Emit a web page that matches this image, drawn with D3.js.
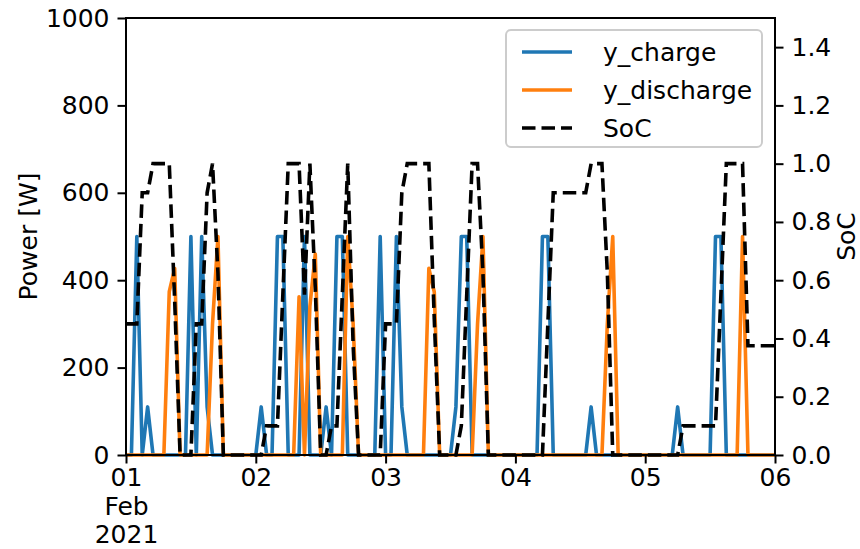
<!DOCTYPE html>
<html>
<head>
<meta charset="utf-8">
<script src="https://cdn.jsdelivr.net/npm/d3@7"></script>
<style>
  body { margin: 0; background: #fff; }
  text { font-family: "DejaVu Sans", sans-serif; }
</style>
</head>
<body>
<div id="chart"></div>
<script>
// hourly values, 2021-02-01 00:00 .. 2021-02-06 00:00 (121 points)
const yCharge = [
  0, 0, 500, 0, 110, 0, 0, 0, 0, 0, 0, 0, 500, 0, 500, 110, 0, 0, 0, 0, 0, 0, 0, 0,
  0, 110, 0, 0, 500, 500, 0, 0, 0, 500, 0, 0, 0, 110, 0, 500, 500, 0, 0, 0, 0, 0, 0, 500,
  0, 0, 500, 110, 0, 0, 0, 0, 0, 0, 0, 0, 0, 110, 500, 500, 0, 0, 0, 0, 0, 0, 0, 0,
  0, 0, 0, 0, 0, 500, 500, 0, 0, 0, 0, 0, 0, 0, 110, 0, 0, 0, 0, 0, 0, 0, 0, 0,
  0, 0, 0, 0, 0, 0, 110, 0, 0, 0, 0, 0, 0, 500, 500, 0, 0, 0, 0, 0, 0, 0, 0, 0,
  0
];
const yDischarge = [
  0, 0, 0, 0, 0, 0, 0, 0, 374, 427, 0, 0, 0, 0, 0, 0, 300, 500, 0, 0, 0, 0, 0, 0,
  0, 0, 0, 0, 0, 0, 0, 0, 362, 0, 340, 460, 0, 0, 0, 0, 0, 500, 300, 0, 0, 0, 0, 0,
  0, 0, 0, 0, 0, 0, 0, 0, 427, 373, 0, 0, 0, 0, 0, 0, 0, 300, 500, 0, 0, 0, 0, 0,
  0, 0, 0, 0, 0, 0, 0, 0, 0, 0, 0, 0, 0, 0, 0, 0, 0, 300, 500, 0, 0, 0, 0, 0,
  0, 0, 0, 0, 0, 0, 0, 0, 0, 0, 0, 0, 0, 0, 0, 0, 0, 0, 500, 0, 0, 0, 0, 0,
  0
];
const soc = [
  0.45, 0.45, 0.45, 0.9, 0.9, 1, 1, 1, 1, 0.53, 0, 0, 0, 0.45, 0.45, 0.9, 1, 0.625, 0, 0, 0, 0, 0, 0,
  0, 0, 0.1, 0.1, 0.1, 0.55, 1, 1, 1, 0.55, 1, 0.575, 0, 0, 0.1, 0.1, 0.55, 1, 0.375, 0, 0, 0, 0, 0,
  0.45, 0.45, 0.45, 0.9, 1, 1, 1, 1, 1, 0.466, 0, 0, 0, 0, 0.1, 0.55, 1, 1, 0.625, 0, 0, 0, 0, 0,
  0, 0, 0, 0, 0, 0, 0.45, 0.9, 0.9, 0.9, 0.9, 0.9, 0.9, 0.9, 1, 1, 1, 0.625, 0, 0, 0, 0, 0, 0,
  0, 0, 0, 0, 0, 0, 0, 0.1, 0.1, 0.1, 0.1, 0.1, 0.1, 0.1, 0.55, 1, 1, 1, 1, 0.375, 0.375, 0.375, 0.375, 0.375,
  0.375
];
const powerTicks = [0, 200, 400, 600, 800, 1000];
const socTicks = [0, 0.2, 0.4, 0.6, 0.8, 1.0, 1.2, 1.4];
const seriesNames = ["y_charge", "y_discharge", "SoC"];

const width = 860;
const height = 549;
const margin = { top: 18, right: 85, bottom: 94, left: 126 };
const fontSize = 25;

const start = new Date(Date.UTC(2021, 1, 1));
const times = yCharge.map((_, i) => d3.utcHour.offset(start, i));

const svg = d3.select("#chart").append("svg")
  .attr("width", width)
  .attr("height", height);

const x = d3.scaleUtc()
  .domain([start, d3.utcDay.offset(start, 5)])
  .range([margin.left, width - margin.right]);
const y = d3.scaleLinear().domain([0, 1000]).range([height - margin.bottom, margin.top]);
const y2 = d3.scaleLinear().domain([0, 1.5]).range([height - margin.bottom, margin.top]);

const plot = svg.append("g");

const lineP = (arr) => d3.line()
  .x((d, i) => x(times[i]))
  .y(d => y(d))(arr);

plot.append("path")
  .attr("d", lineP(yCharge))
  .attr("fill", "none")
  .attr("stroke", "#1f77b4")
  .attr("stroke-width", 3.6)
  .attr("stroke-linejoin", "round");

plot.append("path")
  .attr("d", lineP(yDischarge))
  .attr("fill", "none")
  .attr("stroke", "#ff7f0e")
  .attr("stroke-width", 3.6)
  .attr("stroke-linejoin", "round");

plot.append("path")
  .attr("d", d3.line().x((d, i) => x(times[i])).y(d => y2(d))(soc))
  .attr("fill", "none")
  .attr("stroke", "#000")
  .attr("stroke-width", 3.6)
  .attr("stroke-dasharray", "13.5,6");

// axes
const tickLen = 8.5;
const bottom = height - margin.bottom;

const xAxis = svg.append("g")
  .attr("transform", `translate(0,${bottom})`)
  .call(d3.axisBottom(x).ticks(d3.utcDay.every(1)).tickSize(tickLen).tickPadding(5).tickFormat(d3.utcFormat("%d")));
xAxis.selectAll("text").attr("font-size", fontSize).attr("fill", "#000").attr("font-family", "DejaVu Sans");
xAxis.select(".tick text")
  .each(function () {
    const t = d3.select(this);
    t.append("tspan").attr("x", 0).attr("dy", "1.13em").text("Feb");
    t.append("tspan").attr("x", 0).attr("dy", "1.13em").text("2021");
  });

const yAxis = svg.append("g")
  .attr("transform", `translate(${margin.left},0)`)
  .call(d3.axisLeft(y).tickValues(powerTicks).tickSize(tickLen).tickPadding(8).tickFormat(d3.format("d")));
yAxis.selectAll("text").attr("font-size", fontSize).attr("fill", "#000").attr("font-family", "DejaVu Sans");

const y2Axis = svg.append("g")
  .attr("transform", `translate(${width - margin.right},0)`)
  .call(d3.axisRight(y2).tickValues(socTicks).tickSize(tickLen).tickPadding(8).tickFormat(d3.format(".1f")));
y2Axis.selectAll("text").attr("font-size", fontSize).attr("fill", "#000").attr("font-family", "DejaVu Sans");

[xAxis, yAxis, y2Axis].forEach(g => {
  g.select(".domain").remove();
  g.selectAll(".tick line").attr("stroke", "#000").attr("stroke-width", 2);
});

// frame
svg.append("rect")
  .attr("x", margin.left)
  .attr("y", margin.top)
  .attr("width", width - margin.left - margin.right)
  .attr("height", height - margin.top - margin.bottom)
  .attr("fill", "none")
  .attr("stroke", "#000")
  .attr("stroke-width", 2);

// axis labels
svg.append("text")
  .attr("transform", `translate(28,${(margin.top + bottom) / 2}) rotate(-90)`)
  .attr("text-anchor", "middle")
  .attr("dominant-baseline", "central")
  .attr("font-size", fontSize)
  .text("Power [W]");

svg.append("text")
  .attr("transform", `translate(846,${(margin.top + bottom) / 2}) rotate(-90)`)
  .attr("text-anchor", "middle")
  .attr("dominant-baseline", "central")
  .attr("font-size", fontSize)
  .text("SoC");

// legend
const legend = svg.append("g");
legend.append("rect")
  .attr("x", 506).attr("y", 30)
  .attr("width", 256).attr("height", 117)
  .attr("rx", 5)
  .attr("fill", "#fff").attr("fill-opacity", 0.8)
  .attr("stroke", "#ccc").attr("stroke-width", 2);

const legColors = ["#1f77b4", "#ff7f0e", "#000"];
seriesNames.forEach((name, i) => {
  const ly = 52 + i * 38;
  legend.append("line")
    .attr("x1", 522).attr("x2", 572)
    .attr("y1", ly).attr("y2", ly)
    .attr("stroke", legColors[i])
    .attr("stroke-width", 3.6)
    .attr("stroke-dasharray", i === 2 ? "13.5,6" : null);
  legend.append("text")
    .attr("x", 603).attr("y", ly)
    .attr("dominant-baseline", "central")
    .attr("font-size", fontSize)
    .text(name);
});
</script>
</body>
</html>
